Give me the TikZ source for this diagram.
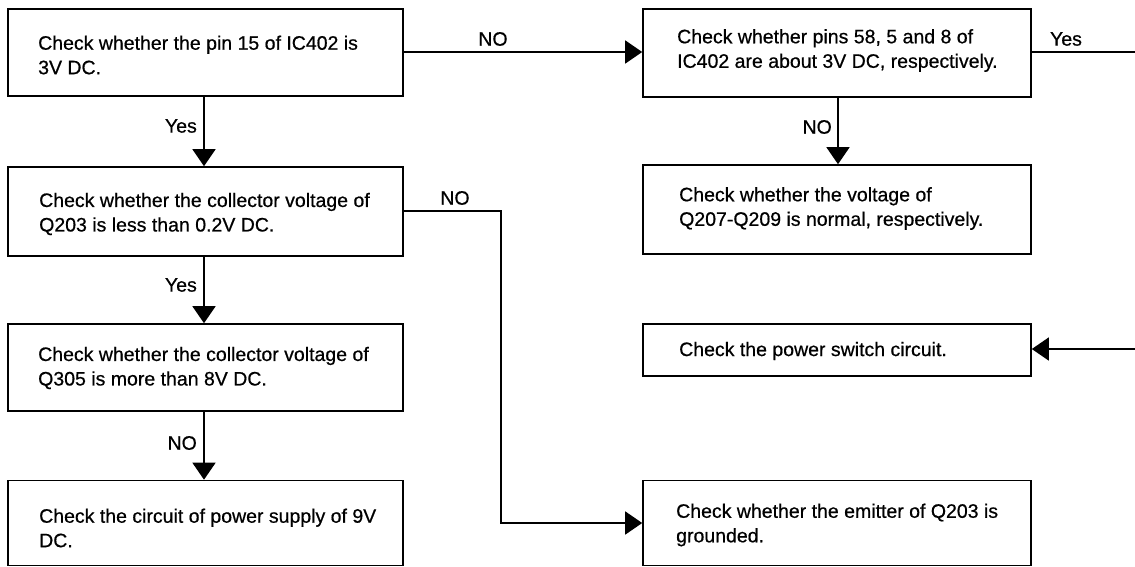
\documentclass[tikz,border=0pt]{standalone}
\usepackage{fontspec}
\setmainfont{Liberation Sans}[FakeBold=0.6]
\usetikzlibrary{arrows.meta}
\begin{document}
\begin{tikzpicture}[x=1pt,y=-1pt,
  box/.style={draw, line width=1.6pt, rectangle, inner sep=0pt},
  lbox/.style={box, minimum width=395pt},
  rbox/.style={box, minimum width=388pt},
  txt/.style={anchor=west, align=left, inner sep=0pt, font=\fontsize{19.5}{24.5}\selectfont},
  lab/.style={inner sep=0pt, font=\fontsize{19.5}{24.5}\selectfont},
  arr/.style={line width=1.5pt, -{Triangle[length=17pt,width=23pt]}},
  ln/.style={line width=1.5pt}]
\useasboundingbox (0,0) rectangle (1135,566);
\clip (0,0) rectangle (1135,566);
\fill[white] (0,0) rectangle (1135,566);
% boxes
\node[lbox, minimum height=87pt] (L1) at (205.5,52.5) {};
\node[lbox, minimum height=89pt] (L2) at (205.5,211.5) {};
\node[lbox, minimum height=87pt] (L3) at (205.5,367.5) {};
\node[lbox, minimum height=85pt] (L4) at (205.5,523) {};
\node[rbox, minimum height=88pt] (R1) at (837,53) {};
\node[rbox, minimum height=89pt] (R2) at (837,209.5) {};
\node[rbox, minimum height=52pt] (R3) at (837,350) {};
\node[rbox, minimum height=85pt] (R4) at (837,523) {};
% texts
\node[txt] (t1) at (38,55) {Check whether the pin 15 of IC402 is\\3V DC.};
\node[txt] (t2) at (39,214) {Check whether the collector voltage of\\Q203 is less than 0.2V DC.};
\node[txt] (t3) at (38,368) {Check whether the collector voltage of\\Q305 is more than 8V DC.};
\node[txt] (t4) at (39,528) {Check the circuit of power supply of 9V\\DC.};
\node[txt] (t5) at (677,50.5) {Check whether pins 58, 5 and 8 of\\IC402 are about 3V DC, respectively.};
\node[txt] (t6) at (679,208.5) {Check whether the voltage of\\Q207-Q209 is normal, respectively.};
\node[txt] (t7) at (679,351) {Check the power switch circuit.};
\node[txt] (t8) at (676,525) {Check whether the emitter of Q203 is\\grounded.};
% free ends
\coordinate (yesend) at (1135,52);
\coordinate (inend) at (1135,349);
% connectors
\draw[arr] (L1.east |- 0,52) -- (R1.west |- 0,52);
\draw[ln] (R1.east |- 0,52) -- (yesend);
\draw[arr] (inend) -- (R3.east |- inend);
\draw[arr] (L1.south -| 204,0) -- (L2.north -| 204,0);
\draw[arr] (L2.south -| 204,0) -- (L3.north -| 204,0);
\draw[arr] (L3.south -| 204,0) -- (L4.north -| 204,0);
\draw[arr] (R1.south -| 838,0) -- (R2.north -| 838,0);
\draw[arr] (L2.east |- 0,211) -- (501,211) |- (R4.west);
% labels
\node[lab] (n1) at (493,39) {NO};
\node[lab] (n2) at (455,198) {NO};
\node[lab] (y1) at (1066,39) {Yes};
\node[lab, anchor=east] (y2) at (197,126) {Yes};
\node[lab, anchor=east] (y3) at (197,285) {Yes};
\node[lab, anchor=east] (n3) at (197,443) {NO};
\node[lab, anchor=east] (n4) at (832,127) {NO};
\end{tikzpicture}
\end{document}
